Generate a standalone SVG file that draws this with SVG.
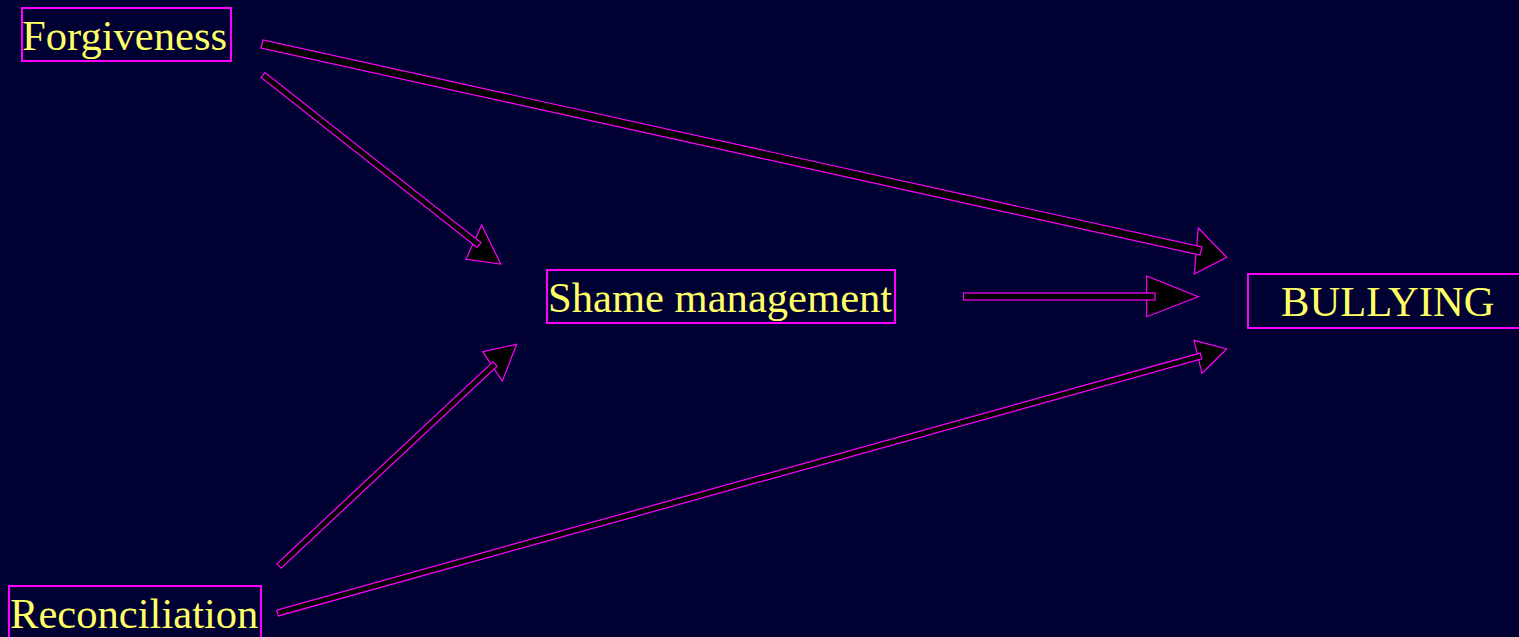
<svg xmlns="http://www.w3.org/2000/svg" width="1519" height="637" viewBox="0 0 1519 637">
<style>
.box{fill:none;stroke:#FF00FF;stroke-width:2}
.lbl{font-family:"Liberation Serif","Times New Roman",serif;font-size:42.6px;fill:#FFFF66}
.shaft,.head{fill:#000000;stroke:#FF00FF;stroke-width:1.2}
</style>
<rect x="0" y="0" width="1519" height="637" fill="#000033"/>
<g id="connectors">
<g id="e-forg-bully"><polygon class="head" points="1198.3,228 1226.7,257.3 1194.3,274"/><polygon class="shaft" points="261,48 263,40 1202,247 1200,255"/></g>
<g id="e-forg-shame"><polygon class="head" points="481.7,225 500.7,264 466,259.3"/><polygon class="shaft" points="261.1,77.4 264.9,72.6 480.9,242.6 477.1,247.4"/></g>
<g id="e-recon-shame"><polygon class="head" points="482.7,351.7 516.7,344.3 502.3,381"/><polygon class="shaft" points="281.05,568.2 276.95,563.8 492.95,361.8 497.05,366.2"/></g>
<g id="e-shame-bully"><polygon class="head" points="1146.7,276 1198.3,296.7 1146.7,316.7"/><rect class="shaft" x="963.5" y="293" width="191.5" height="7"/></g>
<g id="e-recon-bully"><polygon class="head" points="1194,340.3 1226.7,349 1202,373.3"/><polygon class="shaft" points="278.3,615.9 276.7,610.1 1200.2,353.1 1201.8,358.9"/></g>
</g>
<g id="forgiveness"><rect class="box" x="22" y="8" width="209" height="53"/><text class="lbl" x="22" y="50">Forgiveness</text></g>
<g id="reconciliation"><rect class="box" x="9" y="586" width="252" height="60"/><text class="lbl" x="10" y="628">Reconciliation</text></g>
<g id="shame"><rect class="box" x="547" y="270" width="348" height="53"/><text class="lbl" x="548" y="312">Shame management</text></g>
<g id="bullying"><rect class="box" x="1248" y="274" width="280" height="54"/><text class="lbl" x="1281" y="316">BULLYING</text></g>
</svg>
